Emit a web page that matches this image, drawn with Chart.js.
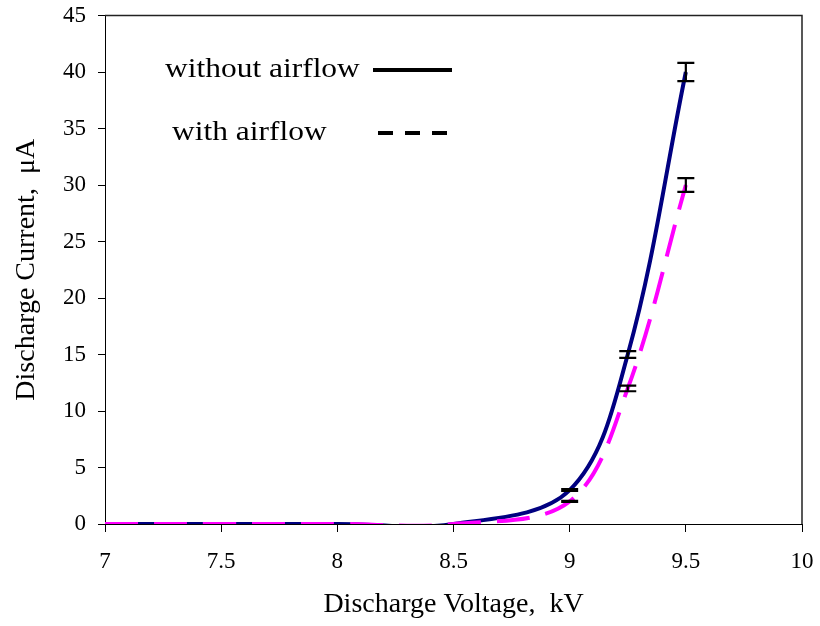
<!DOCTYPE html>
<html>
<head>
<meta charset="utf-8">
<script src="https://cdn.jsdelivr.net/npm/chart.js@4/dist/chart.umd.min.js"></script>
<style>
  html, body { margin: 0; padding: 0; background: #fff; }
  #wrap { width: 820px; height: 626px; }
</style>
</head>
<body>
<div id="wrap"><canvas id="chart" width="820" height="626"></canvas></div>
<script>
// Discharge voltage (kV) and measured current (µA)
const voltage = [7, 7.5, 8, 8.5, 9, 9.25, 9.5];
const currentNoAirflow = [0, 0, 0, 0, 3, 15, 40];
const currentAirflow = [0, 0, 0, 0, 2, 12, 30];
// error half-widths (µA); null where no bar is drawn
const errNoAirflow = [null, null, null, null, 0.08, 0.3, 0.8];
const errAirflow = [null, null, null, null, 0.04, 0.25, 0.6];
const seriesNames = ['without airflow', 'with airflow'];
const xTicks = [7, 7.5, 8, 8.5, 9, 9.5, 10];
const yTicks = [0, 5, 10, 15, 20, 25, 30, 35, 40, 45];

const serif = '"Liberation Serif", "Times New Roman", serif';

const toPoints = (ys) => voltage.map((x, i) => ({ x, y: ys[i] }));

// frame around the plot area (top and right edges)
const frame = {
  id: 'frame',
  beforeDatasetsDraw(chart) {
    const { ctx, chartArea: a } = chart;
    ctx.save();
    ctx.strokeStyle = '#222';
    ctx.lineWidth = 1.5;
    ctx.beginPath();
    ctx.moveTo(a.left, a.top);
    ctx.lineTo(a.right, a.top);
    ctx.lineTo(a.right, a.bottom);
    ctx.stroke();
    ctx.restore();
  }
};

// vertical error bars with caps
const errorBars = {
  id: 'errorBars',
  afterDatasetsDraw(chart) {
    const { ctx, scales: { x, y } } = chart;
    const sets = [
      { vals: currentNoAirflow, err: errNoAirflow },
      { vals: currentAirflow, err: errAirflow }
    ];
    ctx.save();
    ctx.strokeStyle = '#000';
    ctx.lineWidth = 2.2;
    sets.forEach(s => {
      voltage.forEach((v, i) => {
        const e = s.err[i];
        if (e == null) return;
        const px = x.getPixelForValue(v);
        const top = y.getPixelForValue(s.vals[i] + e);
        const bot = y.getPixelForValue(s.vals[i] - e);
        const hw = 8.5;
        ctx.beginPath();
        ctx.moveTo(px, top); ctx.lineTo(px, bot);
        ctx.moveTo(px - hw, top); ctx.lineTo(px + hw, top);
        ctx.moveTo(px - hw, bot); ctx.lineTo(px + hw, bot);
        ctx.stroke();
      });
    });
    ctx.restore();
  }
};

// legend: text followed by a line sample
function wideText(ctx, text, x, y, sx) {
  ctx.save();
  ctx.translate(x, y);
  ctx.scale(sx, 1);
  ctx.fillText(text, 0, 0);
  ctx.restore();
}
const keyLegend = {
  id: 'keyLegend',
  afterDraw(chart) {
    const { ctx } = chart;
    ctx.save();
    ctx.fillStyle = '#000';
    ctx.font = '27px ' + serif;
    ctx.textBaseline = 'alphabetic';
    ctx.textAlign = 'left';
    wideText(ctx, seriesNames[0], 165, 77, 1.165);
    wideText(ctx, seriesNames[1], 172, 140, 1.165);
    ctx.strokeStyle = '#000';
    ctx.lineWidth = 4;
    ctx.beginPath();
    ctx.moveTo(373, 70); ctx.lineTo(452, 70);
    ctx.stroke();
    ctx.setLineDash([15, 12]);
    ctx.beginPath();
    ctx.moveTo(378, 133); ctx.lineTo(450, 133);
    ctx.stroke();
    ctx.restore();
  }
};

new Chart(document.getElementById('chart'), {
  type: 'line',
  data: {
    datasets: [
      {
        label: seriesNames[0],
        data: toPoints(currentNoAirflow),
        borderColor: '#000080',
        borderWidth: 4,
        pointRadius: 0,
        tension: 0.35,
        fill: false,
        order: 2
      },
      {
        label: seriesNames[1],
        data: toPoints(currentAirflow),
        borderColor: '#ff00ff',
        borderWidth: 4,
        borderDash: [33, 16],
        pointRadius: 0,
        tension: 0.35,
        fill: false,
        order: 1
      }
    ]
  },
  options: {
    responsive: false,
    animation: false,
    events: [],
    layout: { padding: { top: 15.5, right: 18, left: 0, bottom: 0 } },
    elements: { line: { capBezierPoints: false } },
    plugins: {
      legend: { display: false },
      tooltip: { enabled: false }
    },
    scales: {
      x: {
        type: 'linear',
        min: 7, max: 10,
        afterBuildTicks: (s) => { s.ticks = xTicks.map(v => ({ value: v })); },
        afterFit: (s) => {
          s.height = 102;
          s.paddingLeft = 0; s.paddingRight = 0;
        },
        ticks: {
          color: '#000',
          font: { family: serif, size: 23 },
          padding: 16,
          maxRotation: 0,
          callback: (v) => String(v)
        },
        grid: { drawOnChartArea: false, drawTicks: true, tickLength: 8, color: '#000', lineWidth: 1 },
        border: { display: true, color: '#000', width: 1 },
        title: {
          display: true,
          text: 'Discharge Voltage,  kV',
          color: '#000',
          font: { family: serif, size: 28 },
          padding: { top: 0, bottom: 5 }
        }
      },
      y: {
        type: 'linear',
        min: 0, max: 45,
        afterBuildTicks: (s) => { s.ticks = yTicks.map(v => ({ value: v })); },
        afterFit: (s) => {
          s.width = 105;
          s.paddingTop = 0; s.paddingBottom = 0;
        },
        ticks: {
          color: '#000',
          font: { family: serif, size: 23 },
          padding: 12,
          callback: (v) => String(v)
        },
        grid: { drawOnChartArea: false, drawTicks: true, tickLength: 7, color: '#000', lineWidth: 1 },
        border: { display: true, color: '#000', width: 1 },
        title: {
          display: true,
          text: 'Discharge Current,  μA',
          color: '#000',
          font: { family: serif, size: 28 },
          padding: { top: 10, bottom: 0 }
        }
      }
    }
  },
  plugins: [frame, errorBars, keyLegend]
});
</script>
</body>
</html>
